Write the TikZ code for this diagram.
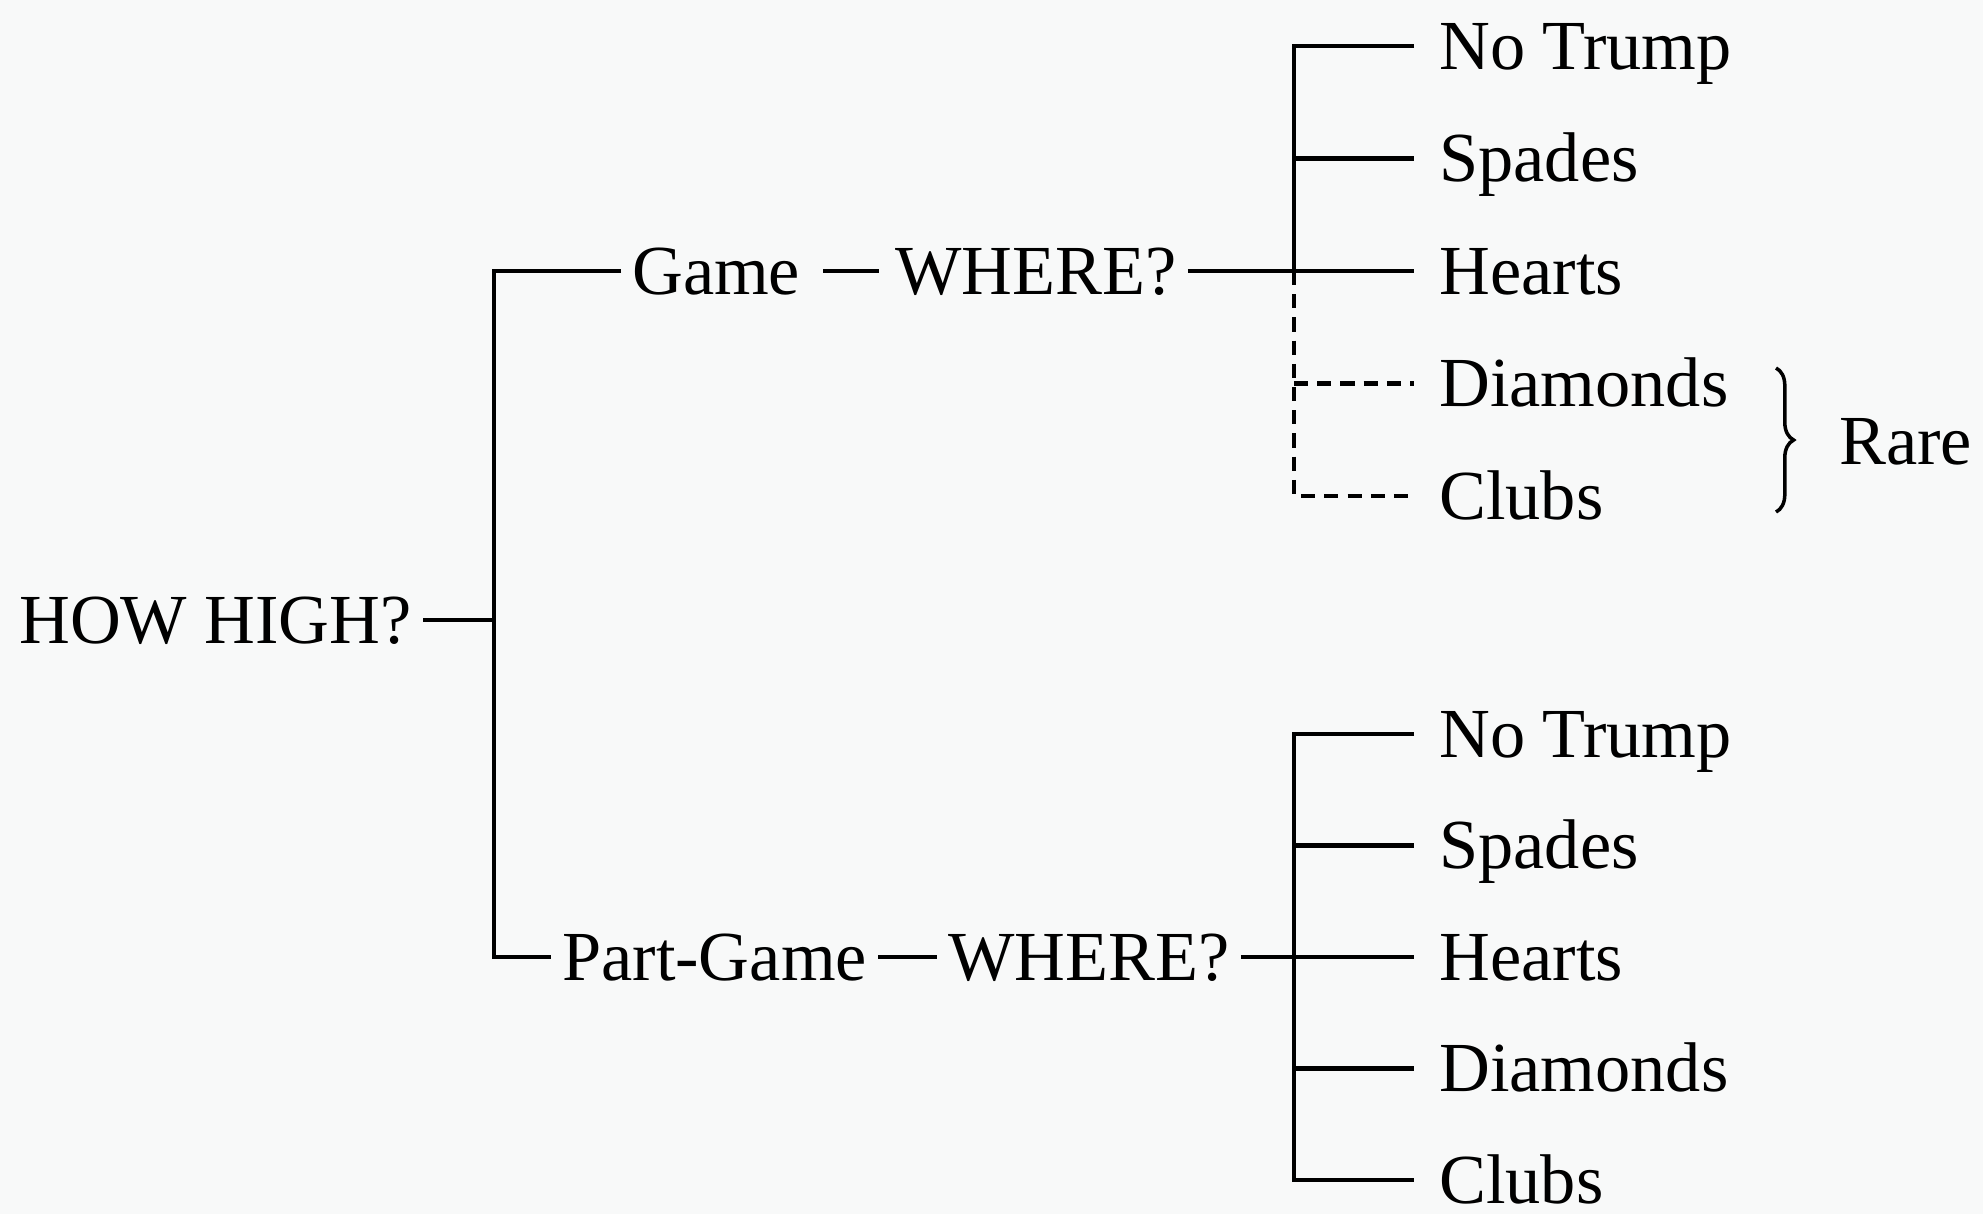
\documentclass[tikz,border=0pt]{standalone}
\usepackage{fontspec}
\setmainfont{Liberation Serif}
\usepackage{xcolor}
\usetikzlibrary{decorations.pathreplacing}
\definecolor{paper}{RGB}{248,249,249}

\begin{document}
\begin{tikzpicture}[x=0.01cm, y=-0.01cm,
    lbl/.style={font=\fontsize{20}{24}\selectfont, anchor=west, inner xsep=3pt,
      inner ysep=0pt, text height=13.2pt, text depth=0pt},
    leaf/.style={lbl, inner xsep=7pt},
    link/.style={line width=1.2pt},
    rarelink/.style={line width=1.2pt, dash pattern=on 4pt off 2.6pt},
    rarebrace/.style={line width=1pt, decorate, decoration={brace, amplitude=5pt}}]
  \fill[paper] (0,0) rectangle (1983,1214);
  % contract level and strain
  \node[lbl] (howhigh) at (8,620) {HOW HIGH?};
  \coordinate (hj) at (494,620);
  \node[lbl] (game) at (621,271) {Game};
  \node[lbl] (where1) at (884,271) {WHERE?};
  \node[lbl] (partgame) at (551,957) {Part-Game};
  \node[lbl] (where2) at (937,957) {WHERE?};
  \draw[link] (howhigh.east) -- (hj);
  \draw[link] (game.west) -| (hj) |- (partgame.west);
  \draw[link, shorten <=3.4pt, shorten >=1.4pt] (game.east) -- (where1.west);
  \draw[link] (partgame.east) -- (where2.west);
  % suits
  \foreach \suit [count=\i from 0] in {No Trump, Spades, Hearts, Diamonds, Clubs} {
    \node[leaf] (g\i) at (1414,{46+112.5*\i}) {\suit};
    \node[leaf] (p\i) at (1414,{734+111.5*\i}) {\suit};
  }
  \coordinate (gj) at (1294,271);
  \coordinate (pj) at (1294,957);
  \draw[link] (where1.east) -- (gj);
  \draw[link] (where2.east) -- (pj);
  \draw[link] (g0.west) -| (g2.west -| gj) -- (g2.west);
  \draw[link] (g1.west -| gj) -- (g1.west);
  \draw[rarelink] (gj) |- (g4.west);
  \draw[rarelink] (g3.west -| gj) -- (g3.west);
  \draw[link] (p0.west) -| (p4.west -| pj) -- (p4.west);
  \foreach \i in {1,2,3} \draw[link] (p\i.west -| pj) -- (p\i.west);
  % rare suits
  \coordinate (bt) at (1776,368);
  \coordinate (bb) at (1776,512);
  \draw[rarebrace] (bt) -- (bb);
  \node[lbl] (rare) at (1828,441) {Rare};
\end{tikzpicture}
\end{document}
